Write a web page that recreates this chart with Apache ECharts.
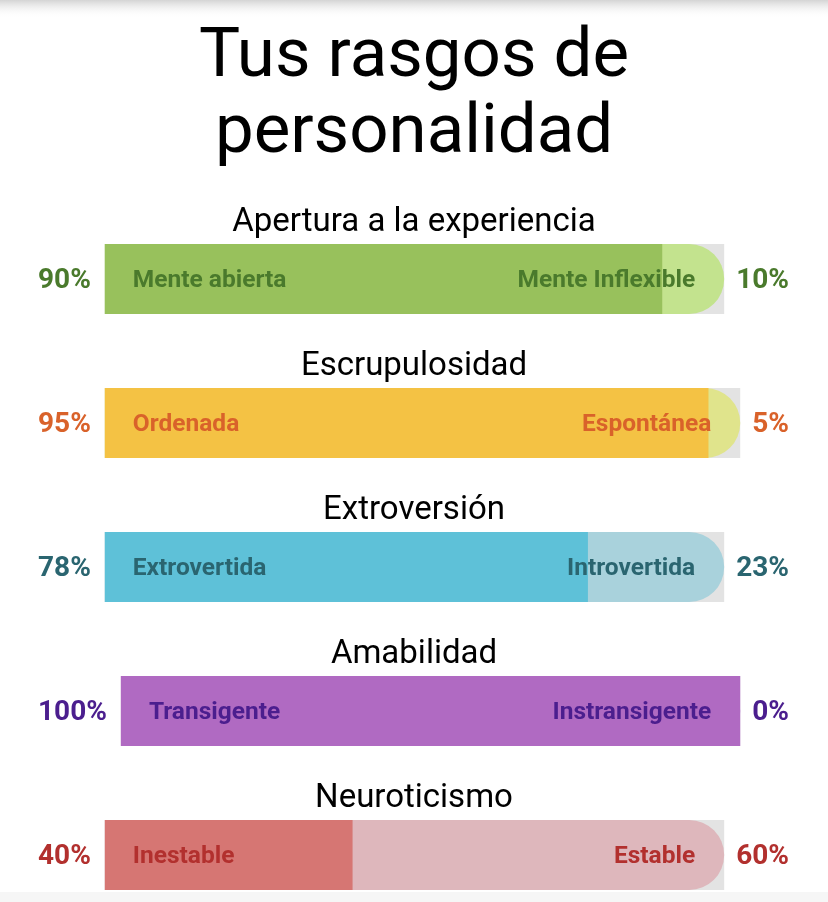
<!DOCTYPE html>
<html><head><meta charset="utf-8">
<script src="https://cdn.jsdelivr.net/npm/echarts@6/dist/echarts.min.js"></script>
<style>html,body{margin:0;padding:0;background:#fff}#c{width:828px;height:902px}</style>
</head><body><div id="c"></div>
<script>
// ---- data ----
const titleText = 'Tus rasgos de\npersonalidad';
const traits = ['Apertura a la experiencia', 'Escrupulosidad', 'Extroversión', 'Amabilidad', 'Neuroticismo'];
const leftLabels = ['Mente abierta', 'Ordenada', 'Extrovertida', 'Transigente', 'Inestable'];
const rightLabels = ['Mente Inflexible', 'Espontánea', 'Introvertida', 'Instransigente', 'Estable'];
const leftPct = [90, 95, 78, 100, 40];
const rightPct = [10, 5, 23, 0, 60];
const fullScale = 100;

// ---- styles ----
const barColors = ['#98c15c', '#f4c244', '#5ec1d8', '#b06ac2', '#d67673'];
const lightColors = ['#c3e38e', '#e0e48c', '#a9d2dc', '#c9a0d8', '#deb7bc'];
const textColors = ['#4a7a2c', '#d9622a', '#2a6570', '#4b1e8e', '#b2302e'];
const FONT = 'Roboto, "Noto Sans", sans-serif';

const chart = echarts.init(document.getElementById('c'), null, { renderer: 'canvas' });

const ctx = document.createElement('canvas').getContext('2d');
ctx.font = 'bold 28px Roboto';
const tw = s => ctx.measureText(s).width;

const pct = v => v + '%';
const rowTop0 = 244, rowStep = 144, barH = 70;

const grid = [], xAxis = [], yAxis = [], series = [];
const titles = [{
  text: titleText, left: 'center', top: 16,
  textStyle: { fontFamily: FONT, fontSize: 69, fontWeight: 400, color: '#000', lineHeight: 76 }
}];

traits.forEach((t, i) => {
  const top = rowTop0 + i * rowStep;
  const leftEdge = 38 + tw(pct(leftPct[i])) + 14;
  const rightEdge = 789 - tw(pct(rightPct[i])) - 12;
  grid.push({ left: leftEdge, right: 828 - rightEdge, top: top, height: barH, containLabel: false });
  xAxis.push({ gridIndex: i, type: 'value', min: 0, max: fullScale, show: false });
  yAxis.push({ gridIndex: i, type: 'category', data: [t], show: false });
  titles.push({
    text: t, left: 'center', top: top - 46,
    textStyle: { fontFamily: FONT, fontSize: 33, fontWeight: 400, color: '#000', lineHeight: 40 }
  });
  const lblBase = { fontFamily: FONT, fontWeight: 'bold', color: textColors[i], offset: [0, 2] };
  // light full bar with rounded end + gray track
  series.push({
    type: 'bar', xAxisIndex: i, yAxisIndex: i, barWidth: barH, barGap: '-100%',
    data: [fullScale], silent: true, z: 2,
    showBackground: true, backgroundStyle: { color: '#e3e3e3' },
    itemStyle: { color: lightColors[i], borderRadius: [0, 35, 35, 0] },
    label: { show: true, position: 'right', distance: 12, formatter: () => pct(rightPct[i]), fontSize: 28, ...lblBase }
  });
  // dark part
  series.push({
    type: 'bar', xAxisIndex: i, yAxisIndex: i, barWidth: barH, barGap: '-100%',
    data: [leftPct[i]], silent: true, z: 3,
    itemStyle: { color: barColors[i], borderRadius: 0 },
    label: { show: true, position: 'left', distance: 14, formatter: () => pct(leftPct[i]), fontSize: 28, ...lblBase }
  });
  // inner labels (carriers)
  series.push({
    type: 'bar', xAxisIndex: i, yAxisIndex: i, barWidth: barH, barGap: '-100%',
    data: [fullScale], silent: true, z: 4,
    itemStyle: { color: 'rgba(0,0,0,0)' },
    label: { show: true, position: 'insideLeft', distance: 28, formatter: () => leftLabels[i], fontSize: 24.5, ...lblBase }
  });
  series.push({
    type: 'bar', xAxisIndex: i, yAxisIndex: i, barWidth: barH, barGap: '-100%',
    data: [fullScale], silent: true, z: 4,
    itemStyle: { color: 'rgba(0,0,0,0)' },
    label: { show: true, position: 'insideRight', distance: 29, formatter: () => rightLabels[i], fontSize: 24.5, ...lblBase }
  });
});

chart.setOption({
  backgroundColor: '#fff',
  animation: false,
  title: titles,
  grid, xAxis, yAxis, series,
  graphic: [
    { type: 'rect', left: 0, top: 0, shape: { width: 828, height: 18 }, silent: true,
      style: { fill: new echarts.graphic.LinearGradient(0, 0, 0, 1, [
        { offset: 0, color: '#d4d4d4' }, { offset: 1, color: 'rgba(255,255,255,0)' }]) } },
    { type: 'rect', left: 0, top: 892, shape: { width: 828, height: 10 }, silent: true,
      style: { fill: '#f6f6f6' } }
  ]
});
</script>
</body></html>
